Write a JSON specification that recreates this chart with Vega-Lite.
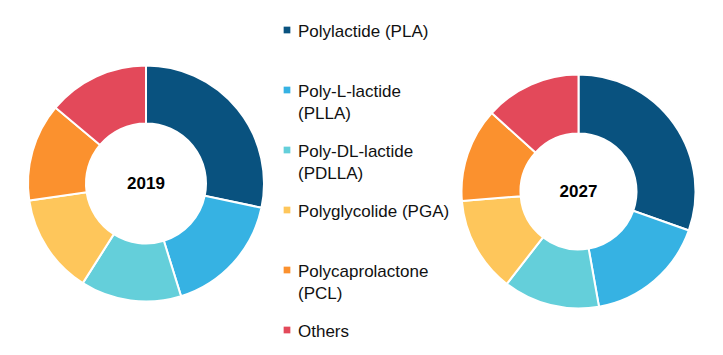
{
  "$schema": "https://vega.github.io/schema/vega-lite/v6.json",
  "padding": {"left": 5, "top": 23, "right": 0, "bottom": 0},
  "background": "white",
  "bounds": "flush",
  "spacing": 0,
  "config": {"view": {"stroke": null}, "font": "Liberation Sans"},
  "data": {
    "values": [
      {"year": "2019", "segment": "Polylactide (PLA)", "share": 28.3, "rank": 1},
      {"year": "2019", "segment": "Poly-L-lactide (PLLA)", "share": 16.9, "rank": 2},
      {"year": "2019", "segment": "Poly-DL-lactide (PDLLA)", "share": 13.8, "rank": 3},
      {"year": "2019", "segment": "Polyglycolide (PGA)", "share": 13.7, "rank": 4},
      {"year": "2019", "segment": "Polycaprolactone (PCL)", "share": 13.4, "rank": 5},
      {"year": "2019", "segment": "Others", "share": 13.9, "rank": 6},
      {"year": "2027", "segment": "Polylactide (PLA)", "share": 30.4, "rank": 1},
      {"year": "2027", "segment": "Poly-L-lactide (PLLA)", "share": 16.8, "rank": 2},
      {"year": "2027", "segment": "Poly-DL-lactide (PDLLA)", "share": 13.3, "rank": 3},
      {"year": "2027", "segment": "Polyglycolide (PGA)", "share": 13.2, "rank": 4},
      {"year": "2027", "segment": "Polycaprolactone (PCL)", "share": 13.0, "rank": 5},
      {"year": "2027", "segment": "Others", "share": 13.3, "rank": 6}
    ]
  },
  "hconcat": [
    {
      "width": 282,
      "height": 307,
      "transform": [{"filter": "datum.year == '2019'"}],
      "layer": [
        {
          "mark": {"type": "arc", "outerRadius": 118, "innerRadius": 60, "stroke": "white", "strokeWidth": 2},
          "encoding": {
            "theta": {"field": "share", "type": "quantitative", "stack": true},
            "order": {"field": "rank", "type": "quantitative"},
            "color": {
              "field": "segment", "type": "nominal", "legend": null,
              "scale": {
                "domain": ["Polylactide (PLA)", "Poly-L-lactide (PLLA)", "Poly-DL-lactide (PDLLA)", "Polyglycolide (PGA)", "Polycaprolactone (PCL)", "Others"],
                "range": ["#09527F", "#36B2E3", "#64CFDA", "#FEC65B", "#FB912E", "#E3495A"]
              }
            }
          }
        },
        {
          "transform": [{"aggregate": [{"op": "count", "as": "n"}], "groupby": ["year"]}],
          "mark": {"type": "text", "fontSize": 17, "fontWeight": "bold", "color": "#000000"},
          "encoding": {"text": {"field": "year", "type": "nominal"}}
        }
      ]
    },
    {
      "width": 171,
      "height": 300,
      "transform": [
        {"filter": "datum.year == '2019'"},
        {"calculate": "length(datum.segment) > 20 ? replace(datum.segment, ' (', '\\n(') : datum.segment", "as": "label"}
      ],
      "layer": [
        {
          "mark": {"type": "square", "size": 45, "opacity": 1},
          "encoding": {
            "x": {"value": 0},
            "y": {"field": "segment", "type": "nominal", "sort": ["Polylactide (PLA)", "Poly-L-lactide (PLLA)", "Poly-DL-lactide (PDLLA)", "Polyglycolide (PGA)", "Polycaprolactone (PCL)", "Others"], "scale": {"type": "point", "padding": 0}, "axis": null},
            "color": {"field": "segment", "type": "nominal", "legend": null}
          }
        },
        {
          "mark": {"type": "text", "align": "left", "baseline": "alphabetic", "dx": 11, "dy": 7, "fontSize": 17, "lineHeight": 22, "lineBreak": "\n", "color": "#111111"},
          "encoding": {
            "x": {"value": 0},
            "y": {"field": "segment", "type": "nominal", "sort": ["Polylactide (PLA)", "Poly-L-lactide (PLLA)", "Poly-DL-lactide (PDLLA)", "Polyglycolide (PGA)", "Polycaprolactone (PCL)", "Others"], "scale": {"type": "point", "padding": 0}, "axis": null},
            "text": {"field": "label", "type": "nominal"}
          }
        }
      ]
    },
    {
      "width": 241,
      "height": 323,
      "transform": [{"filter": "datum.year == '2027'"}],
      "layer": [
        {
          "mark": {"type": "arc", "outerRadius": 117, "innerRadius": 58, "stroke": "white", "strokeWidth": 2},
          "encoding": {
            "theta": {"field": "share", "type": "quantitative", "stack": true},
            "order": {"field": "rank", "type": "quantitative"},
            "color": {"field": "segment", "type": "nominal", "legend": null}
          }
        },
        {
          "transform": [{"aggregate": [{"op": "count", "as": "n"}], "groupby": ["year"]}],
          "mark": {"type": "text", "fontSize": 17, "fontWeight": "bold", "color": "#000000"},
          "encoding": {"text": {"field": "year", "type": "nominal"}}
        }
      ]
    }
  ]
}
